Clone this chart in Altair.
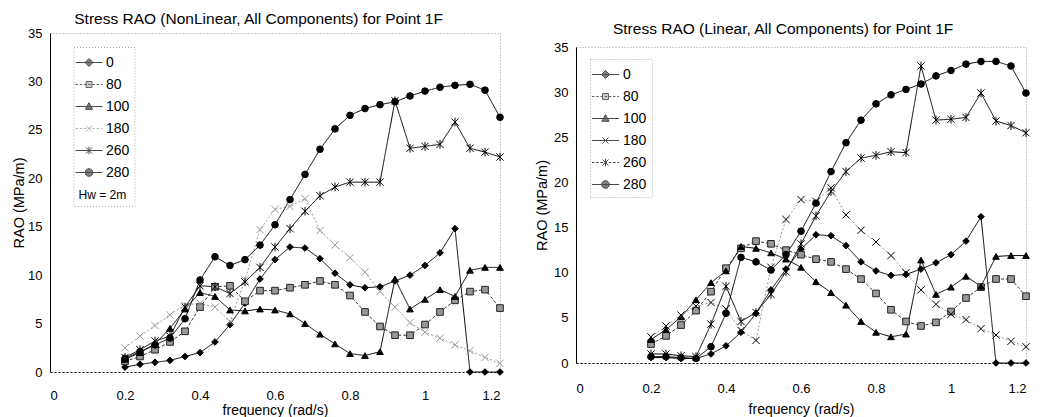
import altair as alt
import pandas as pd

# ---------------- data ----------------
freq = [0.2, 0.24, 0.28, 0.32, 0.36, 0.4, 0.44, 0.48, 0.52, 0.56, 0.6, 0.64, 0.68,
        0.72, 0.76, 0.8, 0.84, 0.88, 0.92, 0.96, 1.0, 1.04, 1.08, 1.12, 1.16, 1.2]
series = ["0", "80", "100", "180", "260", "280"]

# NonLinear panel
nl_0 = [0.5, 0.8, 1.0, 1.2, 1.6, 2.0, 3.1, 4.9, 7.1, 9.6, 11.6, 12.9, 12.8,
        11.7, 10.2, 9.0, 8.7, 8.8, 9.4, 10.0, 11.0, 12.3, 14.8, 0, 0, 0]
nl_80 = [1.1, 1.6, 2.3, 3.1, 4.2, 6.7, 8.8, 8.9, 7.3, 8.4, 8.4, 8.7, 9.0,
         9.4, 9.0, 7.9, 6.2, 4.7, 3.8, 3.8, 4.9, 6.2, 7.4, 8.3, 8.5, 6.6]
nl_100 = [1.3, 2.0, 2.9, 4.5, 6.5, 8.2, 7.8, 6.4, 6.3, 6.5, 6.4, 6.0, 5.0,
          3.9, 2.9, 1.9, 1.7, 2.1, 9.6, 6.5, 7.5, 8.5, 7.8, 10.5, 10.8, 10.8]
nl_180 = [2.5, 3.7, 4.8, 5.9, 6.9, 7.1, 6.7, 5.2, 9.5, 14.7, 16.8, 17.1, 17.9,
          14.6, 13.1, 11.8, 10.3, 8.3, 6.7, 5.1, 4.1, 3.5, 2.8, 2.2, 1.5, 0.9]
nl_260 = [1.5, 2.3, 3.2, 3.7, 6.7, 8.9, 8.8, 8.1, 9.3, 10.8, 12.9, 14.8, 16.6,
          18.2, 19.1, 19.6, 19.6, 19.6, 28.0, 23.1, 23.3, 23.5, 25.8, 23.1, 22.7, 22.2]
nl_280 = [1.4, 2.1, 2.8, 3.5, 5.5, 9.5, 11.9, 11.0, 11.6, 13.1, 15.2, 17.8, 20.4,
          23.0, 25.1, 26.5, 27.2, 27.6, 27.9, 28.5, 29.0, 29.4, 29.6, 29.7, 29.1, 26.3]

# Linear panel
li_0 = [0.6, 0.6, 0.5, 0.5, 1.0, 1.9, 3.4, 5.5, 8.1, 10.4, 12.6, 14.2, 14.1,
        13.0, 11.2, 10.2, 9.7, 9.8, 10.4, 11.1, 12.0, 13.5, 16.2, 0, 0, 0]
li_80 = [2.1, 3.0, 4.2, 5.8, 7.9, 10.5, 12.7, 13.5, 13.2, 12.5, 12.0, 11.5, 11.2,
         10.4, 9.3, 7.7, 5.9, 4.6, 4.1, 4.5, 5.7, 7.2, 8.4, 9.3, 9.3, 7.4]
li_100 = [2.6, 3.7, 5.1, 7.0, 8.9, 10.2, 12.9, 12.7, 12.2, 11.5, 10.6, 9.0, 7.8,
          6.4, 4.6, 3.4, 2.9, 3.2, 11.4, 7.6, 8.4, 9.6, 8.5, 11.8, 11.9, 11.9]
li_180 = [2.9, 4.1, 5.3, 6.3, 6.7, 6.0, 3.6, 2.5, 10.6, 15.9, 18.1, 17.9, 19.4,
          16.4, 14.7, 13.4, 11.9, 10.0, 8.1, 6.5, 5.4, 4.8, 3.8, 3.1, 2.4, 1.8]
li_260 = [1.0, 1.0, 0.8, 0.7, 4.3, 8.5, 4.6, 5.6, 7.6, 10.1, 13.2, 16.3, 19.0,
          21.2, 22.7, 23.0, 23.4, 23.3, 32.9, 26.9, 27.0, 27.2, 29.9, 26.8, 26.3, 25.5]
li_280 = [0.7, 0.7, 0.6, 0.5, 1.8, 5.5, 11.7, 11.2, 10.3, 12.0, 14.6, 17.7, 21.2,
          24.4, 26.9, 28.7, 29.7, 30.3, 30.9, 31.8, 32.4, 33.1, 33.4, 33.4, 32.9, 29.9]

x_ticks = [0, 0.2, 0.4, 0.6, 0.8, 1.0, 1.2]
y_ticks = [0, 5, 10, 15, 20, 25, 30, 35]

FONT = "Liberation Sans"


def build_df(lists):
    rows = []
    for s, vals in zip(series, lists):
        for f, v in zip(freq, vals):
            rows.append({"freq": f, "rao": v, "series": s})
    return pd.DataFrame(rows)


df_nl = build_df([nl_0, nl_80, nl_100, nl_180, nl_260, nl_280])
df_li = build_df([li_0, li_80, li_100, li_180, li_260, li_280])

# ---------------- marker definitions ----------------
X_PATH = "M-1.1,-1.1L1.1,1.1M-1.1,1.1L1.1,-1.1"
AST_PATH = "M-1.1,-1.1L1.1,1.1M-1.1,1.1L1.1,-1.1M0,-1.3L0,1.3"
marker_shapes = ["diamond", "square", "triangle-up", X_PATH, AST_PATH, "circle"]

HALF = 1.35


def line_part(dashed):
    if not dashed:
        return f"M{-HALF},0L{HALF},0"
    parts = []
    x = -HALF
    while x < HALF:
        x2 = min(x + 0.25, HALF)
        parts.append(f"M{x:.2f},0L{x2:.2f},0")
        x += 0.42
    return "".join(parts)


mk_diamond = "M-0.4,0L0,-0.4L0.4,0L0,0.4Z"
mk_square = "M-0.3,-0.3L0.3,-0.3L0.3,0.3L-0.3,0.3Z"
mk_tri = "M0,-0.38L0.36,0.28L-0.36,0.28Z"
mk_x = "M-0.3,-0.3L0.3,0.3M-0.3,0.3L0.3,-0.3"
mk_ast = "M-0.3,-0.3L0.3,0.3M-0.3,0.3L0.3,-0.3M0,-0.38L0,0.38"
mk_circle = "M0.38,0A0.38,0.38 0 1,1 -0.38,0A0.38,0.38 0 1,1 0.38,0Z"


def panel(df, title, title_offset, line_colors, dashes, fills, strokes,
          legend, width, height, y_title_pad, x_label_pad, x_title_pad, legend_dashed):
    x = alt.X("freq:Q",
              scale=alt.Scale(domain=[0, 1.2], nice=False, zero=False),
              axis=alt.Axis(values=x_ticks, format="~g", title="frequency (rad/s)",
                            labelPadding=x_label_pad, titlePadding=x_title_pad,
                            titleFontSize=14, domainDash=[2, 2]))
    y = alt.Y("rao:Q",
              scale=alt.Scale(domain=[0, 35], nice=False),
              axis=alt.Axis(values=y_ticks, title="RAO (MPa/m)",
                            labelPadding=8, titlePadding=y_title_pad,
                            titleFontSize=14.5))
    line = alt.Chart(df).mark_line(strokeWidth=1).encode(
        x=x, y=y,
        color=alt.Color("series:N", scale=alt.Scale(domain=series, range=line_colors), legend=None),
        strokeDash=alt.StrokeDash("series:N", scale=alt.Scale(domain=series, range=dashes), legend=None),
    )
    pts = alt.Chart(df).mark_point(filled=True, size=44, strokeWidth=1, opacity=1).encode(
        x=x, y=y,
        shape=alt.Shape("series:N", scale=alt.Scale(domain=series, range=marker_shapes), legend=None),
        fill=alt.Fill("series:N", scale=alt.Scale(domain=series, range=fills), legend=None),
        stroke=alt.Stroke("series:N", scale=alt.Scale(domain=series, range=strokes), legend=None),
    )
    leg_paths = [
        line_part(legend_dashed[0]) + mk_diamond,
        line_part(legend_dashed[1]) + mk_square,
        line_part(legend_dashed[2]) + mk_tri,
        line_part(legend_dashed[3]) + mk_x,
        line_part(legend_dashed[4]) + mk_ast,
        line_part(legend_dashed[5]) + mk_circle,
    ]
    leg = alt.Chart(df).transform_filter("false").mark_point(filled=True, strokeWidth=1).encode(
        x=x, y=y,
        shape=alt.Shape("series:N", scale=alt.Scale(domain=series, range=leg_paths), legend=legend),
        fill=alt.Fill("series:N", scale=alt.Scale(domain=series, range=fills), legend=legend),
        stroke=alt.Stroke("series:N", scale=alt.Scale(domain=series, range=strokes), legend=legend),
    )
    return alt.layer(line, pts, leg).resolve_scale(
        shape="independent", fill="independent", stroke="independent"
    ).properties(
        width=width, height=height,
        title=alt.TitleParams(text=title, offset=title_offset),
    )


left = panel(
    df_nl, "Stress RAO (NonLinear, All Components) for Point 1F", -0.5,
    ["#000", "#333", "#000", "#999", "#000", "#000"],
    [[1, 0], [3, 2], [1, 0], [2, 2], [1, 0], [1, 0]],
    ["#000", "#999", "#000", "#aaa", "#000", "#000"],
    ["#000", "#222", "#000", "#999", "#000", "#000"],
    alt.Legend(orient="none", legendX=23.5, legendY=14, title="Hw = 2m",
               titleOrient="bottom", titleAnchor="start", titlePadding=10, labelOffset=6.5),
    450, 339, 1, 17, 1, [False, True, False, True, False, False],
)

right = panel(
    df_li, "Stress RAO (Linear, All Components) for Point 1F", 3.5,
    ["#000", "#333", "#000", "#000", "#000", "#000"],
    [[1, 0], [3, 2], [1, 0], [1, 0], [1, 0], [1, 0]],
    ["#000", "#999", "#000", "#000", "#000", "#000"],
    ["#000", "#222", "#000", "#000", "#000", "#000"],
    alt.Legend(orient="none", legendX=14, legendY=12, title=None, labelOffset=7),
    450, 316, 4, 19, 7, [False, True, False, False, True, False],
)


# invisible spacers: the column origins line up, so these set each panel's drop
def spacer():
    return alt.Chart(df_li).transform_filter("false").mark_point(opacity=0).properties(
        width=450, height=1, view=alt.ViewBackground(stroke="transparent")
    )


left_col = alt.vconcat(spacer(), left, spacing=0)
right_col = alt.vconcat(spacer(), right, spacing=10)

chart = alt.hconcat(left_col, right_col, spacing=27).properties(
    padding={"left": 11, "top": 8, "right": 2, "bottom": 2},
    background="white",
).configure_view(
    stroke="#999", strokeDash=[1, 2], strokeWidth=1
).configure_axis(
    labelFont=FONT, labelFontSize=13, labelColor="#000",
    titleFont=FONT, titleFontWeight="normal", titleColor="#000",
    grid=False, ticks=False, domainColor="#000", domainWidth=1,
).configure_title(
    font=FONT, fontSize=15.5, fontWeight="normal", color="#000",
    anchor="middle", frame="bounds",
).configure_legend(
    labelFont=FONT, labelFontSize=14, labelColor="#000",
    titleFont=FONT, titleFontSize=12, titleFontWeight="normal", titleColor="#000",
    symbolSize=400, symbolStrokeWidth=1, rowPadding=4, padding=5,
    strokeColor="#aaa", strokeDash=[1, 2],
)

chart.save("out.html", embed_options={"renderer": "svg", "actions": False})
